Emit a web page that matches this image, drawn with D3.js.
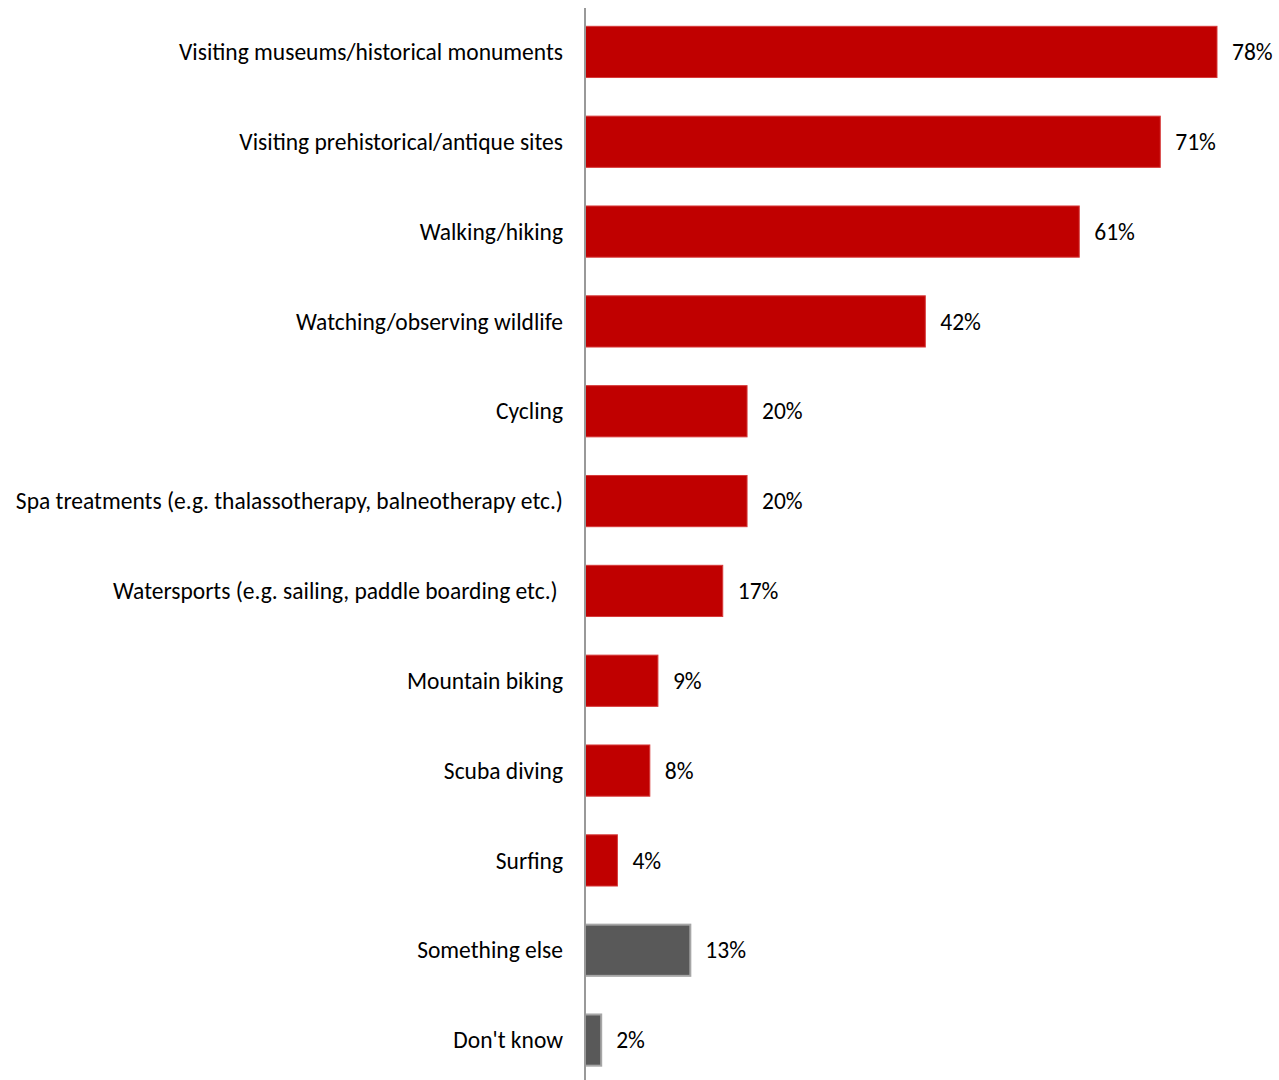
<!DOCTYPE html>
<html>
<head>
<meta charset="utf-8">
<script src="https://cdn.jsdelivr.net/npm/d3@7"></script>
<style>
  html, body { margin: 0; padding: 0; background: #fff; }
  text { font-family: Carlito, Calibri, Lato, "Open Sans", sans-serif; fill: #000; white-space: pre; }
</style>
</head>
<body>
<svg id="chart" width="1279" height="1080"></svg>
<script>
// Activities and share of respondents (%)
const categories = [
  "Visiting museums/historical monuments",
  "Visiting prehistorical/antique sites",
  "Walking/hiking",
  "Watching/observing wildlife",
  "Cycling",
  "Spa treatments (e.g. thalassotherapy, balneotherapy etc.)",
  "Watersports (e.g. sailing, paddle boarding etc.) ",
  "Mountain biking",
  "Scuba diving",
  "Surfing",
  "Something else",
  "Don't know"
];
const values = [78, 71, 61, 42, 20, 20, 17, 9, 8, 4, 13, 2];
const otherCategories = ["Something else", "Don't know"];

const svg = d3.select("#chart");
const axisX = 585;
const fontSize = 23.5;

const x = d3.scaleLinear().domain([0, 80]).range([axisX, axisX + 648.2]);
const y = d3.scaleBand().domain(categories).range([7, 1085]).paddingInner(0.43).paddingOuter(0.215);

const data = categories.map((c, i) => ({ cat: c, val: values[i], other: otherCategories.includes(c) }));

// Bars
svg.append("g").selectAll("rect").data(data).join("rect")
  .attr("x", x(0))
  .attr("y", d => y(d.cat))
  .attr("width", d => x(d.val) - x(0))
  .attr("height", y.bandwidth())
  .attr("fill", d => d.other ? "#595959" : "#C00000")
  .attr("stroke", d => d.other ? "#A6A6A6" : "#D63A3A")
  .attr("stroke-width", d => d.other ? 2 : 1);

// Category labels
svg.append("g").selectAll("text").data(data).join("text")
  .attr("x", axisX - 22)
  .attr("y", d => y(d.cat) + y.bandwidth() / 2)
  .attr("dy", "0.35em")
  .attr("text-anchor", "end")
  .attr("font-size", fontSize)
  .text(d => d.cat);

// Value labels
svg.append("g").selectAll("text").data(data).join("text")
  .attr("x", d => x(d.val) + 15)
  .attr("y", d => y(d.cat) + y.bandwidth() / 2)
  .attr("dy", "0.35em")
  .attr("font-size", fontSize)
  .text(d => d.val + "%");

// Vertical category axis
svg.append("line")
  .attr("x1", axisX).attr("x2", axisX)
  .attr("y1", 8).attr("y2", 1080)
  .attr("stroke", "#999999")
  .attr("stroke-width", 2);
</script>
</body>
</html>
